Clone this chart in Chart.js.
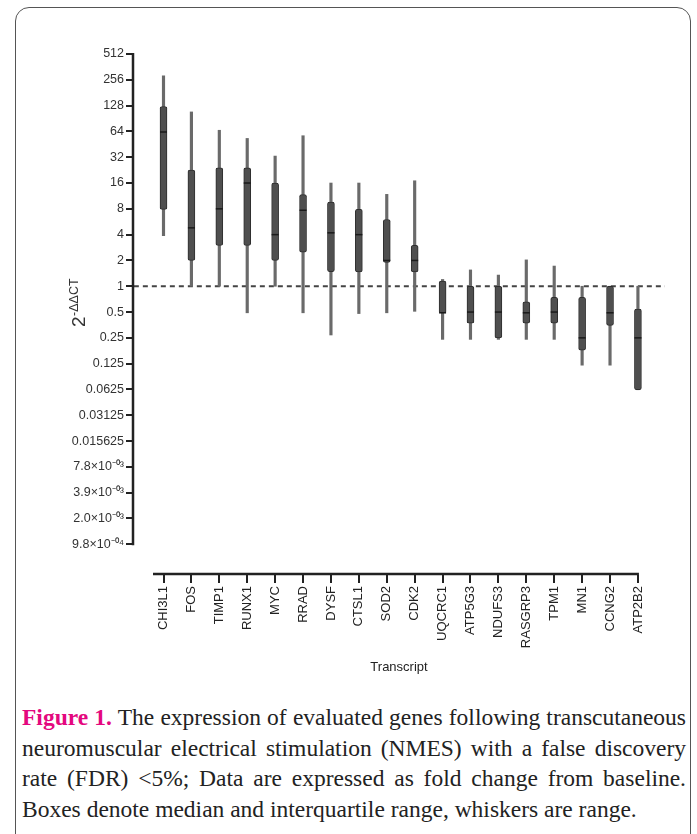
<!DOCTYPE html>
<html>
<head>
<meta charset="utf-8">
<script src="https://cdn.jsdelivr.net/npm/chart.js@4/dist/chart.umd.min.js"></script>
<style>
  html, body { margin: 0; padding: 0; background: #fff; width: 697px; height: 834px; overflow: hidden; }
  .frame { position: absolute; left: 15px; top: 7px; width: 676px; height: 900px; border: 1.5px solid #555; border-radius: 14px; box-sizing: border-box; }
  #chart { position: absolute; left: 0; top: 0; }
  .cap { position: absolute; left: 22px; top: 702px; width: 664px; font-family: "Liberation Serif", "Times New Roman", serif; font-size: 23.5px; line-height: 30.7px; color: #222; }
  .cap div { text-align: justify; text-align-last: justify; white-space: nowrap; }
  .cap div.last { text-align-last: left; }
  .fig { color: #e4087e; font-weight: bold; }
</style>
</head>
<body>
<div class="frame"></div>
<canvas id="chart" width="697" height="690"></canvas>
<div class="cap">
  <div><span class="fig">Figure 1.</span> The expression of evaluated genes following transcutaneous</div>
  <div>neuromuscular electrical stimulation (NMES) with a false discovery</div>
  <div>rate (FDR) &lt;5%; Data are expressed as fold change from baseline.</div>
  <div class="last">Boxes denote median and interquartile range, whiskers are range.</div>
</div>
<script>
// transcripts, left to right
const transcripts = ['CHI3L1', 'FOS', 'TIMP1', 'RUNX1', 'MYC', 'RRAD', 'DYSF', 'CTSL1', 'SOD2',
  'CDK2', 'UQCRC1', 'ATP5G3', 'NDUFS3', 'RASGRP3', 'TPM1', 'MN1', 'CCNG2', 'ATP2B2'];

// fold change (2^-ddCT)
const minVals = [3.9, 1, 1, 0.49, 1, 0.49, 0.27, 0.48, 0.49, 0.51, 0.24, 0.24, 0.24, 0.24, 0.24, 0.12, 0.12, 0.062];
const q1Vals = [7.9, 2, 3, 3, 2, 2.5, 1.48, 1.47, 1.9, 1.47, 0.49, 0.37, 0.25, 0.37, 0.37, 0.18, 0.35, 0.062];
const medianVals = [63, 4.8, 8, 16, 4, 7.7, 4.2, 4, 2, 2, 0.49, 0.5, 0.5, 0.49, 0.5, 0.25, 0.49, 0.25];
const q3Vals = [125, 22.6, 24, 24, 16, 11.7, 9.6, 7.9, 6, 3, 1.15, 1, 1, 0.66, 0.74, 0.74, 1, 0.54];
const maxVals = [284, 108, 66, 53, 33, 57, 16, 16, 11.8, 17, 1.2, 1.55, 1.35, 2.03, 1.72, 1, 1, 1];

// y tick labels, top (2^9) to bottom (2^-10)
const yTickLabels = ['512', '256', '128', '64', '32', '16', '8', '4', '2', '1', '0.5', '0.25', '0.125',
  '0.0625', '0.03125', '0.015625', '7.8\u00d710\u207b\u2070\u00b3', '3.9\u00d710\u207b\u2070\u00b3',
  '2.0\u00d710\u207b\u2070\u00b3', '9.8\u00d710\u207b\u2070\u2074'];
const yTickValues = yTickLabels.map((_, i) => Math.pow(2, 9 - i));

const X_MIN = -1.093, X_MAX = 17.97;
const Y_MIN = Math.pow(2, -11.19), Y_MAX = 512;

const FONT = '"Liberation Sans", Arial, sans-serif';
Chart.defaults.font.family = FONT;
Chart.defaults.color = '#333';

// offset axis lines (prism style) + y axis title
const axesPlugin = {
  id: 'axes',
  afterDraw(chart) {
    const { ctx, chartArea, scales } = chart;
    const x = scales.x, y = scales.y;
    ctx.save();
    ctx.strokeStyle = '#222';
    ctx.lineWidth = 2.5;
    ctx.beginPath();
    ctx.moveTo(chartArea.left, y.getPixelForValue(Y_MAX) - 1);
    ctx.lineTo(chartArea.left, y.getPixelForValue(yTickValues[yTickValues.length - 1]) + 1);
    ctx.stroke();
    ctx.beginPath();
    ctx.moveTo(x.getPixelForValue(-0.376), chartArea.bottom - 1);
    ctx.lineTo(x.getPixelForValue(17) + 1, chartArea.bottom - 1);
    ctx.stroke();

    // y title: 2^-ΔΔCT
    ctx.translate(85, 327);
    ctx.rotate(-Math.PI / 2);
    ctx.fillStyle = '#333';
    ctx.textBaseline = 'alphabetic';
    ctx.font = '19px ' + FONT;
    ctx.fillText('2', 0, 0);
    const w = ctx.measureText('2').width;
    ctx.font = '12.5px ' + FONT;
    ctx.fillText('-\u0394\u0394CT', w + 0.5, -7);
    ctx.restore();
  }
};

const boxData = transcripts.map((t, i) => ({ x: i, y: [q1Vals[i], q3Vals[i]] }));
const whiskerData = transcripts.map((t, i) => ({ x: i, y: [minVals[i], maxVals[i]] }));
const medianData = transcripts.map((t, i) => ({ x: i, y: medianVals[i] }));

new Chart(document.getElementById('chart'), {
  type: 'bar',
  data: {
    datasets: [
      {
        type: 'line',
        data: medianData,
        showLine: false,
        pointStyle: 'line',
        pointRadius: 3.5,
        pointBorderWidth: 1.5,
        pointBorderColor: '#1a1a1a',
        order: 0
      },
      {
        data: boxData,
        backgroundColor: '#4f4f4f',
        borderColor: '#2e2e2e',
        borderWidth: 1,
        borderRadius: 2,
        borderSkipped: false,
        barThickness: 7,
        grouped: false,
        order: 1
      },
      {
        data: whiskerData,
        backgroundColor: '#6a6a6a',
        borderWidth: 0,
        barThickness: 2.5,
        grouped: false,
        order: 2
      },
      {
        type: 'line',
        data: [{ x: X_MIN + 0.03, y: 1 }, { x: X_MAX, y: 1 }],
        borderColor: '#444',
        borderWidth: 2,
        borderDash: [5, 4],
        pointRadius: 0,
        order: 3
      }
    ]
  },
  options: {
    responsive: false,
    animation: false,
    layout: { padding: { left: 0, right: 32, top: 54, bottom: 0 } },
    plugins: { legend: { display: false }, tooltip: { enabled: false } },
    scales: {
      x: {
        type: 'linear',
        min: X_MIN,
        max: X_MAX,
        offset: false,
        afterBuildTicks: s => { s.ticks = transcripts.map((t, i) => ({ value: i })); },
        afterFit: s => { s.height = 115; },
        border: { display: false },
        grid: { offset: false, drawOnChartArea: false, tickLength: 8, lineWidth: 2, color: '#222' },
        ticks: {
          autoSkip: false,
          minRotation: 90,
          maxRotation: 90,
          padding: 3,
          color: '#222',
          font: { size: 13 },
          callback: v => transcripts[v]
        },
        title: { display: true, text: 'Transcript', color: '#222', font: { size: 13 }, padding: { top: 0, bottom: 15 } }
      },
      y: {
        type: 'logarithmic',
        min: Y_MIN,
        max: Y_MAX,
        afterBuildTicks: s => { s.ticks = yTickValues.slice().reverse().map(v => ({ value: v })); },
        afterFit: s => { s.width = 133; },
        border: { display: false },
        grid: { drawOnChartArea: false, tickLength: 7, lineWidth: 2, color: '#222' },
        ticks: {
          autoSkip: false,
          padding: 2,
          color: '#333',
          font: { size: 12.5 },
          callback: (v, i) => yTickLabels[yTickLabels.length - 1 - i]
        }
      }
    }
  },
  plugins: [axesPlugin]
});
</script>
</body>
</html>
